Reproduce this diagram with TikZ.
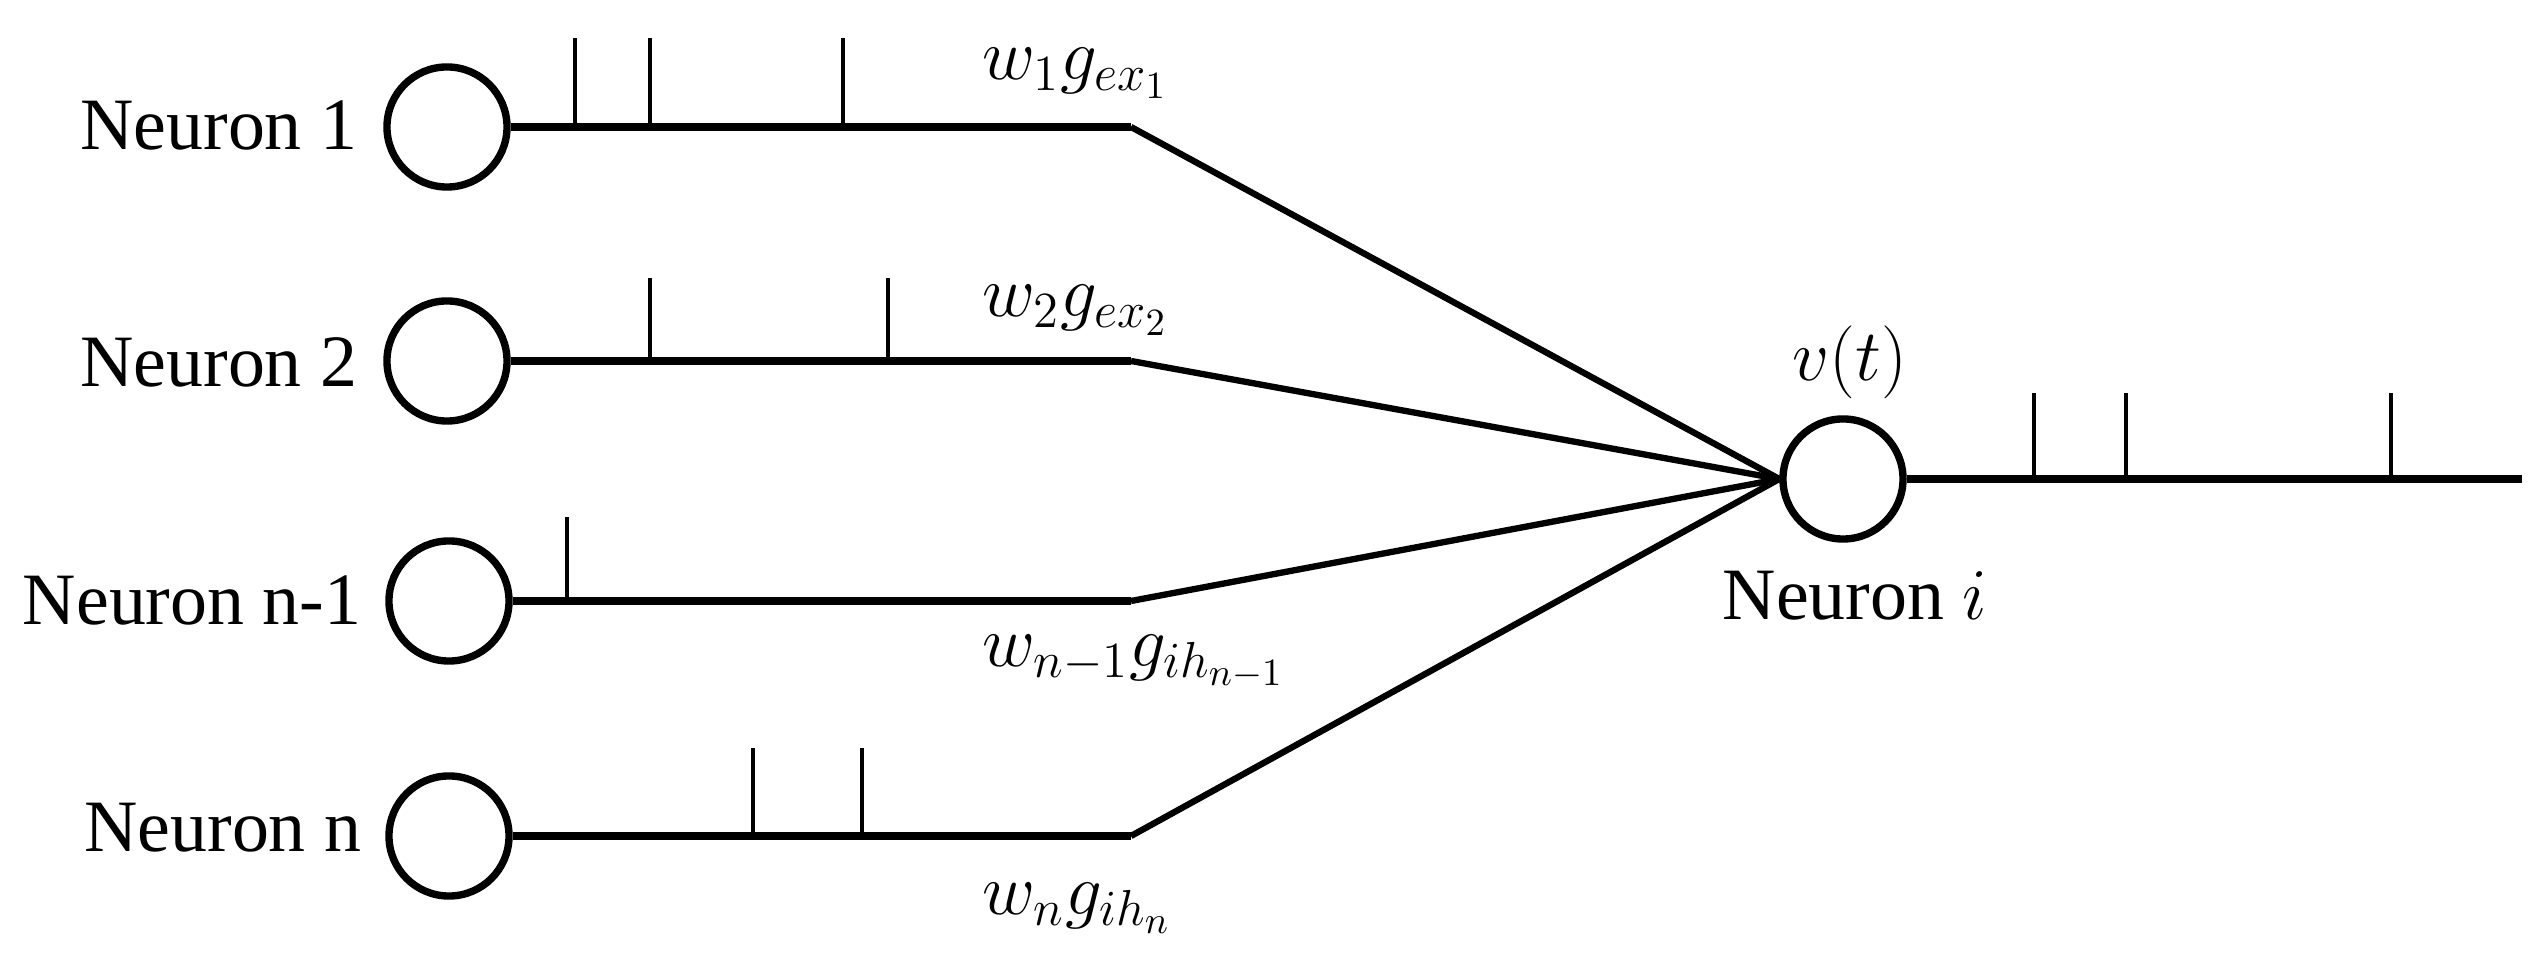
\documentclass[tikz,border=0pt]{standalone}
\usepackage{fontspec}
\setmainfont{Liberation Serif}
\newfontfamily\lserif{Liberation Serif}
\begin{document}
\begin{tikzpicture}[x=0.01cm,y=-0.01cm,
  neuron/.style={circle,draw,line width=2.1pt,minimum size=1.2cm,inner sep=0pt},
  axon/.style={line width=2.1pt},
  syn/.style={line width=1.8pt},
  spike/.style={line width=1.2pt},
  lbl/.style={font=\lserif\fontsize{21}{25}\selectfont,inner sep=0pt},
  wlbl/.style={font=\fontsize{22}{26}\selectfont,inner sep=0pt,anchor=base west}]
\useasboundingbox (0,0) rectangle (2548,968);
% neurons
\node[neuron] (n1) at (447,127) {};
\node[neuron] (n2) at (447,361) {};
\node[neuron] (n3) at (449,601) {};
\node[neuron] (n4) at (449,836) {};
\node[neuron] (ni) at (1843,479) {};
% labels
\node[lbl,anchor=base east] (l1) at (358,150) {Neuron 1};
\node[lbl,anchor=base east] (l2) at (358,387) {Neuron 2};
\node[lbl,anchor=base east] (l3) at (362,625) {Neuron n-1};
\node[lbl,anchor=base east] (l4) at (362,852) {Neuron n};
\node[lbl,anchor=base] (li) at (1855,620) {Neuron $i$};
\node[wlbl,anchor=center] (vt) at (1850,362) {$v(t)$};
\node[wlbl] (w1) at (982,80) {$w_1 g_{ex_1}$};
\node[wlbl] (w2) at (982,317) {$w_2 g_{ex_2}$};
\node[wlbl] (w3) at (982,667) {$w_{n-1} g_{ih_{n-1}}$};
\node[wlbl] (w4) at (982,915) {$w_n g_{ih_n}$};
% bends
\coordinate (b1) at (1131,127);
\coordinate (b2) at (1131,361);
\coordinate (b3) at (1131,601);
\coordinate (b4) at (1131,836);
\coordinate (out) at (2522,479);
% connectors
\draw[axon] (n1.east) -- (b1);
\draw[axon] (n2.east) -- (b2);
\draw[axon] (n3.east) -- (b3);
\draw[axon] (n4.east) -- (b4);
\draw[syn] (b1) -- (ni.west);
\draw[syn] (b2) -- (ni.west);
\draw[syn] (b3) -- (ni.west);
\draw[syn] (b4) -- (ni.west);
\draw[axon] (ni.east) -- (out);
% spikes
\foreach \x in {575,650,843} \draw[spike] (\x,127) -- (\x,38);
\foreach \x in {650,888} \draw[spike] (\x,361) -- (\x,278);
\foreach \x in {567} \draw[spike] (\x,601) -- (\x,517);
\foreach \x in {753,862} \draw[spike] (\x,836) -- (\x,748);
\foreach \x in {2034,2126,2391} \draw[spike] (\x,479) -- (\x,393);
\end{tikzpicture}
\end{document}
